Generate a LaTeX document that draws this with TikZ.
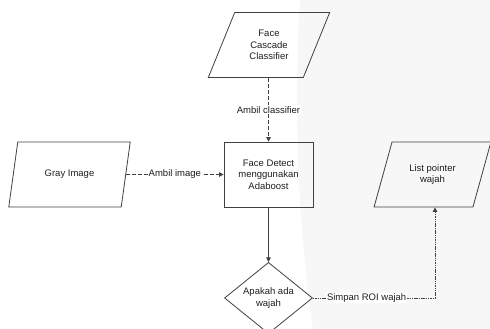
\documentclass[tikz,border=0pt]{standalone}
\usepackage{fontspec}
\setmainfont{Liberation Sans}
\usetikzlibrary{shapes.geometric,arrows.meta,calc}

\begin{document}
\begin{tikzpicture}[x=1pt,y=-1pt,
  every node/.style={font=\fontsize{9.5}{11.7}\selectfont, text=black!88},
  io/.style={trapezium, trapezium left angle=63.4, trapezium right angle=116.6,
    trapezium stretches=true, draw=black!75, line width=0.8pt,
    minimum width=122pt, minimum height=65pt, align=center, inner sep=0pt},
  proses/.style={rectangle, draw=black!75, line width=0.8pt,
    minimum width=89pt, minimum height=65pt, align=center, inner sep=0pt},
  cek/.style={diamond, draw=black!75, line width=0.8pt,
    minimum width=88pt, minimum height=64pt, align=center, inner sep=0pt},
  alur/.style={draw=black!75, line width=0.8pt, -{Triangle[length=4.5pt,width=4.5pt]}},
  ambil/.style={alur, dash pattern=on 4pt off 2pt},
  simpan/.style={alur, dash pattern=on 1.5pt off 0.8pt},
  ket/.style={fill=white, inner sep=1pt}]
  \useasboundingbox (0,0) rectangle (490,329);
\begin{scope}
  \clip (0,0) rectangle (490,329);
  \fill[black!3] (1947,100) circle (1650pt);
\end{scope}

  \node[io]     (fcc)    at (269,45)      {Face\\Cascade\\Classifier};
  \node[proses] (fd)     at (268.5,174.5) {Face Detect\\menggunakan\\Adaboost};
  \node[io]     (gray)   at (69.5,174.5)  {Gray Image};
  \node[cek]    (apakah) at (268.5,298)   {Apakah ada\\wajah};
  \node[io, minimum width=117pt] (lpw) at (432.5,174.5) {List pointer\\wajah};

  \draw[ambil] (fd.north |- fcc.south) -- node[ket] {Ambil classifier} (fd.north);
  \draw[ambil] (gray.east) -- node[ket] {Ambil image} (fd.west);
  \draw[alur]  (fd.south) -- (apakah.north);
  \draw[simpan] (apakah.east) -| node[ket, pos=0.22] {Simpan ROI wajah} ($(lpw.south)+(2.5,0)$);
\end{tikzpicture}
\end{document}
